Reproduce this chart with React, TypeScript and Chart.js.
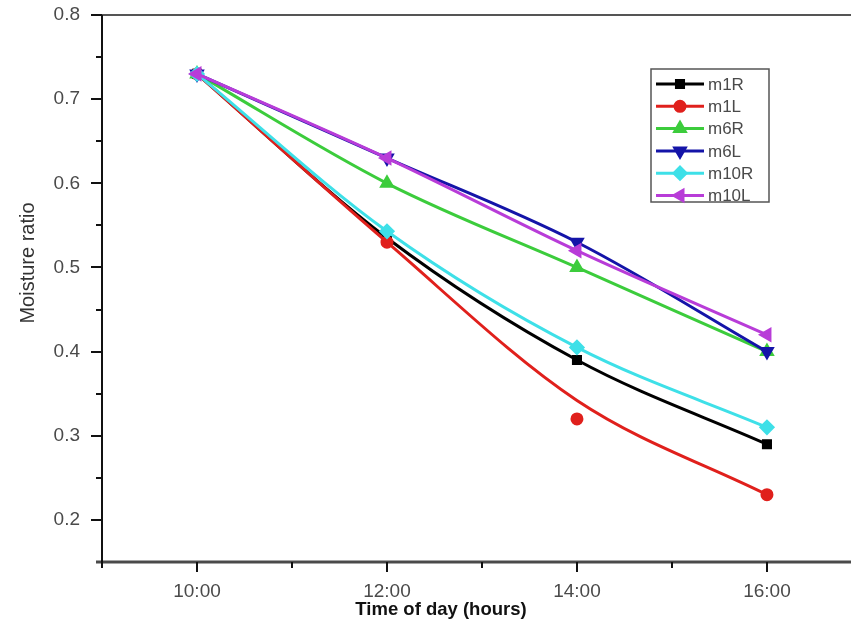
import React, { useEffect, useRef } from "react";
import { Chart, registerables } from "chart.js";
import { drawPoint } from "chart.js/helpers";

Chart.register(...registerables);

// ---- data ----
const hours = [10, 12, 14, 16];
const hourTicks = [9, 10, 11, 12, 13, 14, 15, 16];
const moistureTicks = [0.2, 0.25, 0.3, 0.35, 0.4, 0.45, 0.5, 0.55, 0.6, 0.65, 0.7, 0.75, 0.8];
const seriesNames = ["m1R", "m1L", "m6R", "m6L", "m10R", "m10L"];
const m1R = [0.73, 0.535, 0.39, 0.29];
const m1L = [0.73, 0.53, 0.32, 0.23];
const m1LFit = [0.73, 0.53, 0.342, 0.23]; // smoothed red curve as drawn
const m6R = [0.73, 0.6, 0.5, 0.4];
const m6L = [0.73, 0.63, 0.53, 0.4];
const m10R = [0.73, 0.543, 0.405, 0.31];
const m10L = [0.73, 0.63, 0.52, 0.42];

const colors = ["#000000", "#e0201c", "#3ccc3c", "#1414a8", "#3ee0e8", "#b83cd8"];
const styles: any[] = ["rect", "circle", "triangle", "triangle", "rectRot", "triangle"];
const rotations = [0, 0, 0, 180, 0, 270];
const radii = [5, 5, 6, 6, 6, 6];

const FONT = "'Liberation Sans', Arial, sans-serif";
const TEXT = "#4a4a4a";

const pts = (vals: number[]) => vals.map((v, i) => ({ x: hours[i], y: v }));

const framePlugin = {
  id: "frame",
  afterDraw(chart: any) {
    const ctx = chart.ctx as CanvasRenderingContext2D;
    const { left, top, bottom } = chart.chartArea;
    const right = chart.width;
    const xs = chart.scales.x;
    const ys = chart.scales.y;
    ctx.save();
    // top border
    ctx.strokeStyle = "#555";
    ctx.lineWidth = 2;
    ctx.beginPath();
    ctx.moveTo(left, top);
    ctx.lineTo(right, top);
    ctx.stroke();
    // bottom axis
    ctx.strokeStyle = "#4a4a4a";
    ctx.lineWidth = 3;
    ctx.beginPath();
    ctx.moveTo(left - 6, bottom);
    ctx.lineTo(right, bottom);
    ctx.stroke();
    // left axis
    ctx.strokeStyle = "#111";
    ctx.lineWidth = 2;
    ctx.beginPath();
    ctx.moveTo(left, top);
    ctx.lineTo(left, bottom + 6);
    ctx.stroke();
    // y ticks
    ctx.lineWidth = 2;
    moistureTicks.forEach((v) => {
      const y = Math.round(ys.getPixelForValue(v));
      const major = Math.abs(Math.round(v * 10) - v * 10) < 1e-6;
      ctx.beginPath();
      ctx.moveTo(left, y);
      ctx.lineTo(left - (major ? 11 : 6), y);
      ctx.stroke();
    });
    // x ticks
    hourTicks.forEach((h) => {
      if (h === 9) return;
      const x = Math.round(xs.getPixelForValue(h));
      const major = h % 2 === 0;
      ctx.beginPath();
      ctx.moveTo(x, bottom);
      ctx.lineTo(x, bottom + (major ? 10 : 6));
      ctx.stroke();
    });
    // axis titles
    ctx.fillStyle = "#111";
    ctx.font = `bold 18.5px ${FONT}`;
    ctx.textAlign = "center";
    ctx.textBaseline = "middle";
    ctx.fillText("Time of day (hours)", 441, 610);
    ctx.save();
    ctx.translate(28, 263);
    ctx.rotate(-Math.PI / 2);
    ctx.fillStyle = "#333";
    ctx.font = `20px ${FONT}`;
    ctx.fillText("Moisture ratio", 0, 0);
    ctx.restore();
    // legend
    const bx = 651, by = 69, bw = 118, bh = 133;
    ctx.fillStyle = "#fff";
    ctx.fillRect(bx, by, bw, bh);
    ctx.strokeStyle = "#555";
    ctx.lineWidth = 1.5;
    ctx.strokeRect(bx, by, bw, bh);
    seriesNames.forEach((name, i) => {
      const y = by + 15 + i * 22.3;
      ctx.strokeStyle = colors[i];
      ctx.lineWidth = 3;
      ctx.beginPath();
      ctx.moveTo(bx + 5, y);
      ctx.lineTo(bx + 53, y);
      ctx.stroke();
      ctx.fillStyle = colors[i];
      drawPoint(ctx, { pointStyle: styles[i], rotation: rotations[i], radius: radii[i], borderWidth: 1 } as any, bx + 29, y);
      ctx.fillStyle = TEXT;
      ctx.font = `17px ${FONT}`;
      ctx.textAlign = "left";
      ctx.textBaseline = "middle";
      ctx.fillText(name, bx + 57, y + 1);
    });
    ctx.restore();
  },
};

export default function App() {
  const ref = useRef<HTMLCanvasElement | null>(null);
  useEffect(() => {
    if (!ref.current) return;
    const all = [m1R, m1L, m6R, m6L, m10R, m10L];
    const datasets: any[] = [];
    all.forEach((vals, i) => {
      const base = {
        label: seriesNames[i],
        borderColor: colors[i],
        backgroundColor: colors[i],
        pointBackgroundColor: colors[i],
        pointBorderColor: colors[i],
        pointStyle: styles[i],
        rotation: rotations[i],
        pointRadius: radii[i],
        borderWidth: 3,
        cubicInterpolationMode: "monotone",
        order: 10 - i,
      };
      if (i === 1) {
        datasets.push({ ...base, label: "m1L fit", data: pts(m1LFit), pointRadius: 0, order: 10 - i });
        datasets.push({ ...base, data: pts(vals), showLine: false });
      } else {
        datasets.push({ ...base, data: pts(vals) });
      }
    });
    const chart = new Chart(ref.current, {
      type: "line",
      data: { datasets },
      options: {
        animation: false,
        responsive: false,
        layout: { padding: { top: 15, right: 0, left: 0, bottom: 0 } },
        plugins: { legend: { display: false }, tooltip: { enabled: false } },
        scales: {
          x: {
            type: "linear",
            min: 9,
            max: 16.79,
            grid: { display: false, drawTicks: false },
            border: { display: false },
            afterBuildTicks: (s: any) => {
              s.ticks = hours.map((h) => ({ value: h }));
            },
            ticks: {
              autoSkip: false,
              maxRotation: 0,
              padding: 18,
              color: TEXT,
              font: { family: FONT, size: 19 },
              callback: (v: any) => `${Number(v)}:00`,
            },
            afterFit: (s: any) => {
              s.height = 68;
              s.paddingRight = 0;
              s.paddingLeft = 0;
            },
          },
          y: {
            type: "linear",
            min: 0.15,
            max: 0.8,
            grid: { display: false, drawTicks: false },
            border: { display: false },
            afterBuildTicks: (s: any) => {
              s.ticks = moistureTicks
                .filter((v) => Math.abs(Math.round(v * 10) - v * 10) < 1e-6)
                .map((v) => ({ value: v }));
            },
            ticks: {
              autoSkip: false,
              padding: 22,
              color: TEXT,
              font: { family: FONT, size: 19 },
              callback: (v: any) => Number(v).toFixed(1),
            },
            afterFit: (s: any) => {
              s.width = 102;
              s.paddingTop = 0;
              s.paddingBottom = 0;
            },
          },
        },
      },
      plugins: [framePlugin],
    });
    return () => chart.destroy();
  }, []);
  return (
    <div style={{ position: "absolute", left: 0, top: 0, width: 851, height: 630, background: "#fff" }}>
      <canvas ref={ref} width={851} height={630} style={{ display: "block" }} />
    </div>
  );
}
